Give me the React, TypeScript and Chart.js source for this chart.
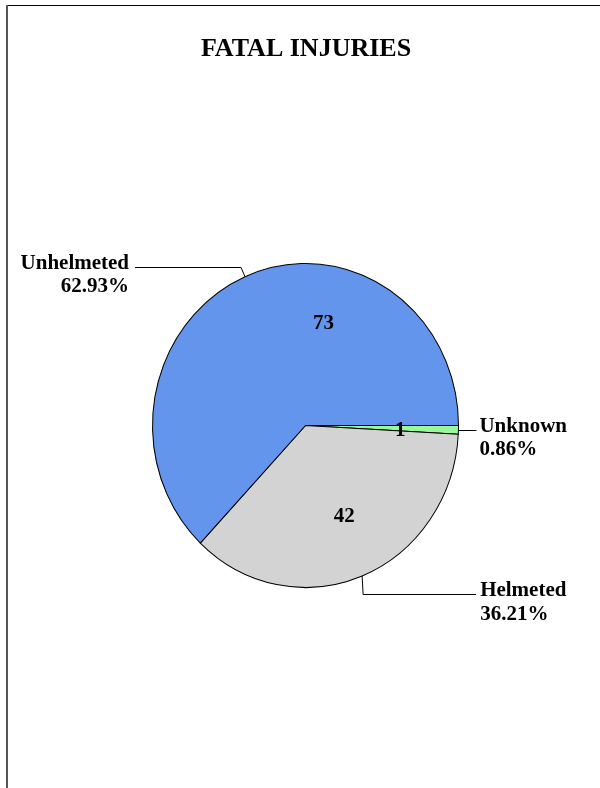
import React, { useEffect, useRef } from "react";
import { Chart, registerables } from "chart.js";

Chart.register(...registerables);

const title = "FATAL INJURIES";
const categories = ["Unknown", "Helmeted", "Unhelmeted"];
const values = [1, 42, 73];
const colors = ["#99F899", "#D3D3D3", "#6495ED"];

const FONT = '"Liberation Serif", "Times New Roman", serif';
const SY = 162 / 153; // vertical stretch of the pie (ellipse)

const stretchPlugin = {
  id: "stretch",
  beforeDatasetsDraw(chart: any) {
    const arc = chart.getDatasetMeta(0).data[0];
    if (!arc) return;
    const ctx = chart.ctx as CanvasRenderingContext2D;
    ctx.save();
    ctx.translate(arc.x, arc.y);
    ctx.scale(1, SY);
    ctx.translate(-arc.x, -arc.y);
  },
  afterDatasetsDraw(chart: any) {
    if (!chart.getDatasetMeta(0).data[0]) return;
    chart.ctx.restore();
  },
};

const overlayPlugin = {
  id: "overlay",
  afterDraw(chart: any) {
    const ctx = chart.ctx as CanvasRenderingContext2D;
    const meta = chart.getDatasetMeta(0);
    const total = values.reduce((a, b) => a + b, 0);
    ctx.save();

    // frame
    ctx.strokeStyle = "#000";
    ctx.lineWidth = 1;
    ctx.beginPath();
    ctx.moveTo(6, 5.5);
    ctx.lineTo(600, 5.5);
    ctx.stroke();
    ctx.strokeStyle = "#555";
    ctx.lineWidth = 2;
    ctx.beginPath();
    ctx.moveTo(7, 5);
    ctx.lineTo(7, 788);
    ctx.stroke();

    // title
    ctx.fillStyle = "#000";
    ctx.font = `bold 26px ${FONT}`;
    ctx.textAlign = "center";
    ctx.textBaseline = "alphabetic";
    ctx.fillText(title, 306, 56);

    ctx.font = `bold 21px ${FONT}`;
    ctx.strokeStyle = "#000";
    ctx.lineWidth = 1;

    // value label placements (angle shift in degrees, radius fraction)
    const valueShift = [0.75, -2.8, 33.8];
    const valueRad = [0.62, 0.61, 0.646];

    meta.data.forEach((arc: any, i: number) => {
      const { x, y, startAngle, endAngle, outerRadius } = arc.getProps(
        ["x", "y", "startAngle", "endAngle", "outerRadius"],
        true
      );
      const mid = (startAngle + endAngle) / 2;
      const ex = x + outerRadius * Math.cos(mid);
      const ey = y + outerRadius * SY * Math.sin(mid);
      const pct = ((values[i] / total) * 100).toFixed(2) + "%";

      // value inside slice
      const va = mid + (valueShift[i] * Math.PI) / 180;
      const vr = outerRadius * valueRad[i];
      ctx.textAlign = "center";
      ctx.textBaseline = "middle";
      ctx.fillText(String(values[i]), x + vr * Math.cos(va), y + vr * SY * Math.sin(va) + 1);

      ctx.textBaseline = "alphabetic";
      ctx.beginPath();
      if (i === 0) {
        // Unknown: right, straight
        const ly = Math.round(ey) + 0.5;
        ctx.moveTo(ex, ly);
        ctx.lineTo(ex + 18, ly);
        ctx.stroke();
        ctx.textAlign = "left";
        ctx.fillText(categories[i], ex + 21, ly + 1.5);
        ctx.fillText(pct, ex + 21, ly + 24.5);
      } else if (i === 1) {
        // Helmeted: down then right
        const ly = Math.round(ey + 18) + 0.5;
        ctx.moveTo(ex, ey);
        ctx.lineTo(ex + 1, ly);
        ctx.lineTo(ex + 114, ly);
        ctx.stroke();
        ctx.textAlign = "left";
        ctx.fillText(categories[i], ex + 118, ly + 1.5);
        ctx.fillText(pct, ex + 118, ly + 25);
      } else {
        // Unhelmeted: up then left
        const ly = Math.round(ey - 10) + 0.5;
        ctx.moveTo(ex, ey);
        ctx.lineTo(ex - 4, ly);
        ctx.lineTo(ex - 110, ly);
        ctx.stroke();
        ctx.textAlign = "right";
        ctx.fillText(categories[i], ex - 116, ly + 1.5);
        ctx.fillText(pct, ex - 116, ly + 24);
      }
    });
    ctx.restore();
  },
};

export default function App() {
  const ref = useRef<HTMLCanvasElement | null>(null);
  useEffect(() => {
    if (!ref.current) return;
    const chart = new Chart(ref.current, {
      type: "pie",
      data: {
        labels: categories,
        datasets: [
          {
            data: values,
            backgroundColor: colors,
            borderColor: "#000",
            borderWidth: 1,
            clip: false,
          },
        ],
      },
      options: {
        responsive: false,
        animation: false,
        rotation: 90,
        layout: { padding: { left: 152, right: 141, top: 272, bottom: 209 } },
        plugins: {
          legend: { display: false },
          tooltip: { enabled: false },
          title: { display: false },
        },
      },
      plugins: [stretchPlugin, overlayPlugin],
    });
    return () => chart.destroy();
  }, []);
  return (
    <div style={{ position: "absolute", left: 0, top: 0, width: 600, height: 788, background: "#fff" }}>
      <canvas ref={ref} width={600} height={788} style={{ display: "block" }} />
    </div>
  );
}
